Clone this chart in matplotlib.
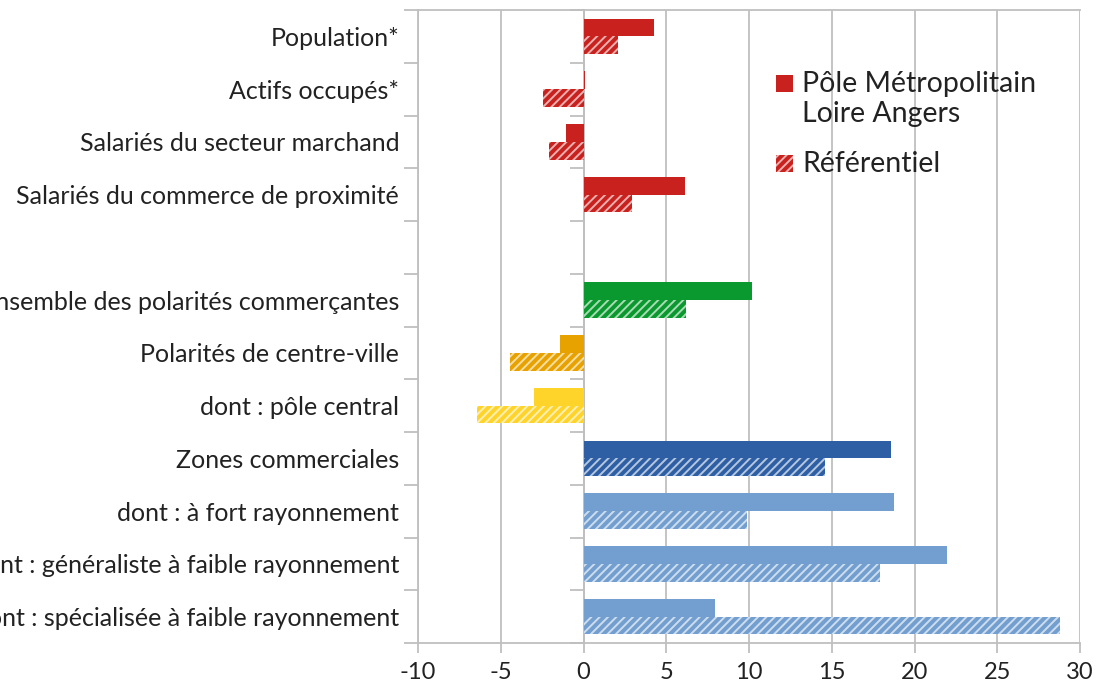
import numpy as np
import matplotlib.pyplot as plt
from matplotlib.patches import Rectangle

plt.rcParams['font.family'] = ['Lato', 'DejaVu Sans']
plt.rcParams['axes.unicode_minus'] = False
plt.rcParams['hatch.linewidth'] = 1.4

# data
categories = [
    "Population*",
    "Actifs occupés*",
    "Salariés du secteur marchand",
    "Salariés du commerce de proximité",
    "",
    "Ensemble des polarités commerçantes",
    "Polarités de centre-ville",
    "dont : pôle central",
    "Zones commerciales",
    "dont : à fort rayonnement",
    "dont : généraliste à faible rayonnement",
    "dont : spécialisée à faible rayonnement",
]
pole_values = [4.23, 0.1, -1.03, 6.11, np.nan, 10.16, -1.45, -3.02, 18.55, 18.75, 21.95, 7.94]
ref_values = [2.06, -2.42, -2.06, 2.95, np.nan, 6.21, -4.42, -6.41, 14.6, 9.9, 17.9, 28.77]
bar_colors = ["#C9211E"] * 5 + ["#0A992E", "#E8A200", "#FFD42A", "#2E5FA5",
                                "#729FCF", "#729FCF", "#729FCF"]
legend_labels = ["Pôle Métropolitain\nLoire Angers", "Référentiel"]

W, H = 1096, 684
fig = plt.figure(figsize=(W / 100, H / 100), dpi=100)
ax = fig.add_axes([418 / W, 1 - 643 / H, (1080 - 418) / W, (643 - 10) / H])

n = len(categories)
pos = np.arange(n)
h = 0.335
grid = "#BFBFBF"
txt = "#222222"
stripe = (1, 1, 1, 0.65)

ax.barh(pos - h / 2, pole_values, height=h, color=bar_colors, linewidth=0, zorder=3)
hb = ax.barh(pos + h / 2, ref_values, height=h, color=bar_colors, linewidth=0, zorder=3)
for b in hb:
    b.set_hatch("////")
    b.set_edgecolor(stripe)
    b.set_linewidth(0)

ax.set_xlim(-10, 30)
ax.set_ylim(n - 0.5, -0.5)
ax.set_xticks(np.arange(-10, 31, 5))
ax.tick_params(axis="x", direction="out", length=7, width=1.3, color=grid,
               labelsize=17, labelcolor=txt, pad=7)
ax.xaxis.grid(True, color=grid, linewidth=1.3, zorder=0)

# category ticks at slot boundaries, labels at centres
ax.set_yticks(np.arange(n + 1) - 0.5)
ax.set_yticklabels([])
ax.set_yticks(pos, minor=True)
ax.set_yticklabels(categories, minor=True, fontsize=18, color=txt, va="center_baseline")
ax.tick_params(axis="y", which="major", direction="out", length=10, width=1.3, color=grid)
ax.tick_params(axis="y", which="minor", length=0, pad=13.5)

for side in ["left", "bottom", "top", "right"]:
    ax.spines[side].set_color(grid)
    ax.spines[side].set_linewidth(1.3)
ax.spines["right"].set_visible(False)

# zero axis with its own ticks
sec = ax.secondary_yaxis(0.25)
sec.set_yticks(np.arange(n + 1) - 0.5)
sec.set_yticklabels([])
sec.tick_params(direction="out", length=10, width=1.3, color=grid)
sec.spines["left"].set_color(grid)
sec.spines["left"].set_linewidth(1.3)

# legend, drawn by hand so the marker sits on the first line of the label
leg_x, sq, line_px = 776, 17, 30
leg_rows = [(92, None), (172, "////")]
for (base, hatch), label in zip(leg_rows, legend_labels):
    r = Rectangle((leg_x / W, 1 - base / H), sq / W, sq / H, transform=fig.transFigure,
                  facecolor="#C9211E", edgecolor=stripe if hatch else "none",
                  hatch=hatch, linewidth=0)
    fig.patches.append(r)
    last_base = base + label.count("\n") * line_px
    fig.text((leg_x + sq + 9) / W, 1 - last_base / H, label, fontsize=20.5, color=txt,
             ha="left", va="baseline", linespacing=1.17)

fig.savefig("out.png", dpi=100)
